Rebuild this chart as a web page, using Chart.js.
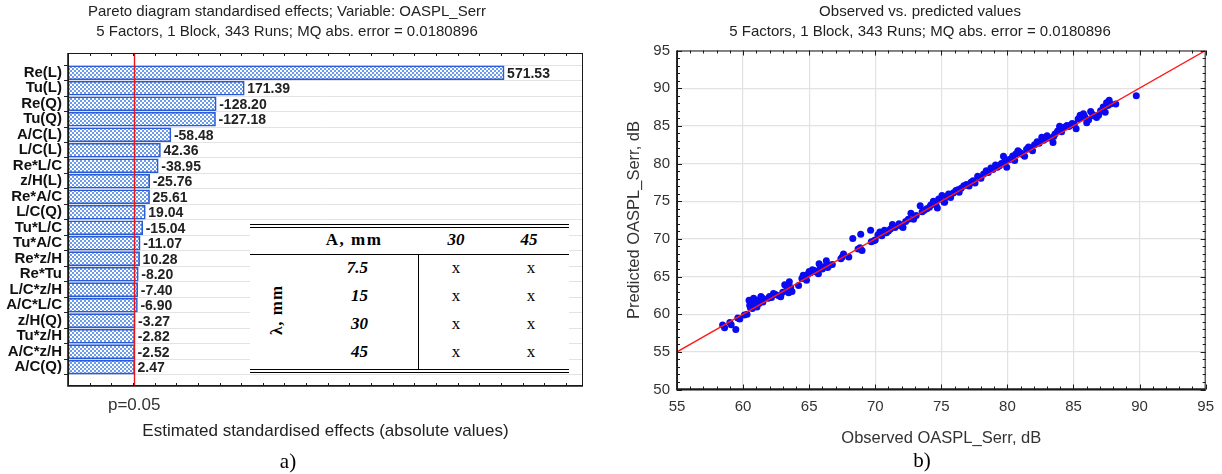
<!DOCTYPE html>
<html>
<head>
<meta charset="utf-8">
<script src="https://cdn.jsdelivr.net/npm/chart.js@4.4.1/dist/chart.umd.min.js"></script>
<style>
  html, body { margin: 0; padding: 0; background: #fff; }
  #page { position: relative; width: 1222px; height: 474px; overflow: hidden; font-family: "Liberation Sans", Arial, sans-serif; }
  #paretoBox { position: absolute; left: 0; top: 0; width: 610px; height: 474px; }
  #scatterBox { position: absolute; left: 610px; top: 0; width: 612px; height: 474px; }
  .cap { position: absolute; font-family: "Liberation Serif", "Times New Roman", serif; font-size: 21px; color: #000; transform: translate(-50%, -50%); }
  #levels { position: absolute; left: 250px; top: 224px; width: 319px; height: 150px; background: #fff; font-family: "Liberation Serif", "Times New Roman", serif; color: #000; }
  #levels .rule { position: absolute; left: 0; width: 319px; height: 1.4px; background: #000; }
  #levels .vrule { position: absolute; left: 167.5px; top: 30px; width: 1.6px; height: 115px; background: #000; }
  #levels .t { position: absolute; transform: translate(-50%, -50%); white-space: nowrap; font-size: 17px; }
  #levels .r { position: absolute; transform: translate(-100%, -50%); white-space: nowrap; font-size: 17px; font-weight: bold; font-style: italic; }
  #levels .b { font-weight: bold; }
  #levels .bi { font-weight: bold; font-style: italic; }
</style>
</head>
<body>
<div id="page">
  <div id="paretoBox"><canvas id="pareto" width="610" height="474"></canvas></div>
  <div id="scatterBox"><canvas id="scatter" width="612" height="474"></canvas></div>

  <div id="levels">
    <div class="rule" style="top:0px"></div>
    <div class="rule" style="top:3px"></div>
    <div class="t b" style="left:104px; top:16px; letter-spacing:1.5px">A, mm</div>
    <div class="t bi" style="left:206px; top:16px">30</div>
    <div class="t bi" style="left:279px; top:16px">45</div>
    <div class="rule" style="top:29.5px; height:1.6px"></div>
    <div class="vrule"></div>
    <div class="t b" style="left:27px; top:86px; transform: translate(-50%, -50%) rotate(-90deg); letter-spacing:1px">λ, mm</div>
    <div class="r" style="left:118px; top:44px">7.5</div>
    <div class="r" style="left:118px; top:72px">15</div>
    <div class="r" style="left:118px; top:100px">30</div>
    <div class="r" style="left:118px; top:128px">45</div>
    <div class="t" style="left:206px; top:44px">x</div>
    <div class="t" style="left:281px; top:44px">x</div>
    <div class="t" style="left:206px; top:72px">x</div>
    <div class="t" style="left:281px; top:72px">x</div>
    <div class="t" style="left:206px; top:100px">x</div>
    <div class="t" style="left:281px; top:100px">x</div>
    <div class="t" style="left:206px; top:128px">x</div>
    <div class="t" style="left:281px; top:128px">x</div>
    <div class="rule" style="top:145px"></div>
    <div class="rule" style="top:148px"></div>
  </div>

  <div class="cap" style="left:288px; top:461px">a)</div>
  <div class="cap" style="left:922px; top:460px">b)</div>
</div>

<script>
// ---- Pareto chart of standardised effects ----
const FACTORS = ['Re(L)', 'Tu(L)', 'Re(Q)', 'Tu(Q)', 'A/C(L)', 'L/C(L)', 'Re*L/C', 'z/H(L)', 'Re*A/C', 'L/C(Q)',
                 'Tu*L/C', 'Tu*A/C', 'Re*z/H', 'Re*Tu', 'L/C*z/H', 'A/C*L/C', 'z/H(Q)', 'Tu*z/H', 'A/C*z/H', 'A/C(Q)'];
const EFFECTS = [571.53, 171.39, -128.20, -127.18, -58.48, 42.36, -38.95, -25.76, 25.61, 19.04,
                 -15.04, -11.07, 10.28, -8.20, -7.40, -6.90, -3.27, -2.82, -2.52, 2.47];
const P_CRITICAL = 1.97;          // t value for p = 0.05
const P_LABEL = 'p=0.05';
const PARETO_TITLE = ['Pareto diagram standardised effects; Variable: OASPL_Serr',
                      '5 Factors, 1 Block, 343 Runs; MQ abs. error = 0.0180896'];
const PARETO_XTITLE = 'Estimated standardised effects (absolute values)';

// ---- Observed vs. predicted ----
const OBSERVED = [
  58.45, 58.6, 59.0, 59.1, 59.45, 59.6, 59.75, 60.1, 60.3, 60.45, 60.5, 60.55, 60.6, 60.7, 60.75, 60.8, 60.85, 60.9, 61.0, 61.05,
  61.1, 61.2, 61.35, 61.45, 61.5, 61.9, 62.0, 62.15, 62.3, 62.45, 62.7, 62.85, 63.0, 63.15, 63.3, 63.45, 63.5, 63.6, 63.7, 64.2,
  64.45, 64.55, 64.65, 64.8, 64.9, 65.0, 65.1, 65.25, 65.4, 65.55, 65.7, 65.75, 65.85, 66.0, 66.1, 66.3, 66.4, 66.55, 66.75, 67.4,
  67.5, 67.6, 68.0, 68.3, 68.7, 68.85, 68.9, 69.0, 69.65, 69.7, 69.9, 70.0, 70.2, 70.35, 70.5, 70.7, 70.85, 71.0, 71.15, 71.3,
  71.5, 71.8, 71.95, 72.1, 72.3, 72.5, 72.7, 72.9, 73.1, 73.4, 73.55, 73.7, 73.9, 74.1, 74.2, 74.4, 74.45, 74.6, 74.7, 74.8,
  75.05, 75.2, 75.25, 75.4, 75.55, 75.7, 75.9, 76.1, 76.25, 76.35, 76.5, 76.7, 76.9, 77.1, 77.25, 77.4, 77.55, 77.75, 77.9, 78.0,
  78.2, 78.4, 78.55, 78.75, 78.9, 79.1, 79.25, 79.4, 79.55, 79.7, 79.8, 79.95, 80.1, 80.25, 80.4, 80.55, 80.65, 80.8, 80.9, 81.0,
  81.15, 81.3, 81.45, 81.6, 81.75, 81.9, 82.05, 82.25, 82.4, 82.6, 82.75, 82.9, 83.0, 83.2, 83.45, 83.5, 83.6, 83.8, 83.95, 84.05,
  84.1, 84.3, 84.5, 84.65, 84.8, 84.9, 85.05, 85.2, 85.35, 85.5, 85.6, 85.75, 85.85, 86.0, 86.15, 86.3, 86.45, 86.6, 86.75, 86.9,
  87.05, 87.25, 87.4, 87.5, 87.6, 87.7, 87.8, 88.2, 89.75
];
const PREDICTED = [
  58.55, 58.2, 58.9, 58.6, 57.95, 59.5, 59.35, 59.9, 60.0, 61.85, 61.2, 60.9, 61.55, 60.75, 61.95, 62.1, 61.3, 61.7, 61.55, 60.95,
  61.85, 61.4, 62.35, 62.15, 61.6, 62.1, 62.35, 62.2, 62.75, 62.6, 62.45, 62.3, 62.9, 63.9, 63.2, 62.85, 64.3, 63.55, 63.0, 63.8,
  64.75, 65.15, 64.95, 64.5, 65.3, 65.65, 65.5, 65.9, 65.8, 65.6, 65.35, 66.7, 66.1, 66.0, 66.3, 67.1, 66.2, 66.5, 66.6, 67.35,
  67.6, 68.0, 67.6, 70.05, 68.65, 68.8, 70.6, 68.45, 71.15, 69.6, 69.75, 69.85, 70.5, 70.9, 70.4, 71.15, 70.8, 71.05, 71.3, 71.9,
  71.5, 72.0, 71.7, 71.5, 72.3, 72.6, 73.4, 72.6, 73.1, 74.4, 73.6, 73.8, 74.0, 74.2, 74.5, 75.0, 74.7, 74.5, 74.1, 75.3,
  75.75, 74.9, 74.85, 75.6, 75.95, 75.5, 76.1, 76.4, 76.5, 76.2, 76.7, 77.05, 77.2, 77.0, 77.5, 77.7, 77.4, 78.3, 78.1, 78.05,
  78.6, 79.05, 78.8, 79.4, 79.2, 79.8, 79.5, 79.7, 80.0, 80.95, 80.3, 79.5, 80.5, 80.6, 81.0, 80.4, 81.3, 81.7, 81.5, 81.4,
  81.2, 80.95, 81.9, 82.2, 81.95, 81.7, 82.5, 82.9, 82.7, 83.5, 83.1, 83.3, 83.7, 83.4, 82.8, 83.6, 83.9, 84.3, 84.95, 84.6,
  84.2, 84.8, 85.05, 84.9, 85.1, 85.3, 85.2, 84.6, 85.9, 86.4, 86.1, 86.6, 86.2, 85.4, 85.8, 86.9, 86.5, 86.3, 86.1, 86.4,
  87.0, 87.5, 86.8, 88.05, 87.7, 88.4, 87.9, 87.9, 89.0
];
const FIT_LINE_X = [55, 95];
const FIT_LINE_Y = [55, 95];
const SCATTER_TITLE = ['Observed vs. predicted values',
                       '5 Factors, 1 Block, 343 Runs; MQ abs. error = 0.0180896'];
const SCATTER_XTITLE = 'Observed OASPL_Serr, dB';
const SCATTER_YTITLE = 'Predicted OASPL_Serr, dB';

const SANS = '"Liberation Sans", Arial, sans-serif';
Chart.defaults.font.family = SANS;

// Two centred heading lines drawn above the plot
const headings = {
  id: 'headings',
  afterDraw(chart, args, opts) {
    const ctx = chart.ctx;
    ctx.save();
    ctx.fillStyle = '#222';
    ctx.font = opts.size + 'px ' + SANS;
    ctx.textAlign = 'center';
    ctx.textBaseline = 'middle';
    opts.lines.forEach((t, i) => ctx.fillText(t, opts.x, opts.y[i]));
    ctx.restore();
  }
};

// Plot frame with small inward tick marks
const frame = {
  id: 'frame',
  afterDatasetsDraw(chart, args, opts) {
    const {ctx, chartArea: a} = chart;
    const xs = chart.scales.x, ys = chart.scales.y;
    ctx.save();
    ctx.strokeStyle = '#1a1a1a';
    ctx.lineWidth = opts.thin;
    ctx.strokeRect(a.left + 0.5, a.top + 0.5, a.right - a.left - 1, a.bottom - a.top - 1);
    ctx.lineWidth = opts.thick;
    ctx.beginPath();
    ctx.moveTo(a.left, a.top); ctx.lineTo(a.left, a.bottom); ctx.lineTo(a.right, a.bottom);
    ctx.stroke();
    ctx.lineWidth = 1;
    ctx.beginPath();
    if (opts.xStep) {
      let k = 0;
      for (let v = xs.min; v <= xs.max + 1e-6; v = xs.min + (++k) * opts.xStep) {
        const px = Math.round(xs.getPixelForValue(v)) + 0.5;
        const len = (opts.xMajor && Math.abs(v / opts.xMajor - Math.round(v / opts.xMajor)) < 1e-6) ? 5 : 3;
        ctx.moveTo(px, a.top); ctx.lineTo(px, a.top + len);
        ctx.moveTo(px, a.bottom); ctx.lineTo(px, a.bottom - len);
      }
    }
    if (opts.yStep) {
      let k = 0;
      for (let v = ys.min; v <= ys.max + 1e-6; v = ys.min + (++k) * opts.yStep) {
        const py = Math.round(ys.getPixelForValue(v)) + 0.5;
        const len = (opts.yMajor && Math.abs(v / opts.yMajor - Math.round(v / opts.yMajor)) < 1e-6) ? 5 : 3;
        ctx.moveTo(a.left, py); ctx.lineTo(a.left + len, py);
        ctx.moveTo(a.right, py); ctx.lineTo(a.right - len, py);
      }
    }
    ctx.stroke();
    ctx.restore();
  }
};

// Significance limit and effect values next to the bars
const paretoExtras = {
  id: 'paretoExtras',
  afterDatasetsDraw(chart) {
    const {ctx, chartArea: a} = chart;
    const x = Math.round(chart.scales.x.getPixelForValue(P_CRITICAL)) + 0.5;
    ctx.save();
    ctx.strokeStyle = '#e8161b';
    ctx.lineWidth = 1.4;
    ctx.beginPath(); ctx.moveTo(x, a.top); ctx.lineTo(x, a.bottom); ctx.stroke();
    ctx.fillStyle = '#222';
    ctx.font = 'bold 14px ' + SANS;
    ctx.textAlign = 'left';
    ctx.textBaseline = 'middle';
    chart.getDatasetMeta(0).data.forEach((bar, i) => {
      ctx.fillText(EFFECTS[i].toFixed(2), bar.x + 3, bar.y + 1);
    });
    ctx.restore();
  }
};

function crossHatch(ctx) {
  const c = document.createElement('canvas');
  c.width = 4; c.height = 4;
  const g = c.getContext('2d');
  g.fillStyle = '#ffffff'; g.fillRect(0, 0, 4, 4);
  g.fillStyle = '#6c9be9';
  g.fillRect(0, 0, 2, 2); g.fillRect(2, 2, 2, 2);
  return ctx.createPattern(c, 'repeat');
}

const EFFECT_MIN = -100, EFFECT_MAX = 693;
const pctx = document.getElementById('pareto').getContext('2d');

new Chart(pctx, {
  type: 'bar',
  data: {
    datasets: [{
      data: EFFECTS.map((v, i) => ({x: Math.abs(v), y: i})),
      base: EFFECT_MIN,
      backgroundColor: crossHatch(pctx),
      borderColor: '#2a5bd6',
      borderWidth: 1.6,
      borderSkipped: false,
      barThickness: 14
    }]
  },
  options: {
    indexAxis: 'y',
    animation: false,
    responsive: false,
    events: [],
    layout: {padding: {left: 0, right: 27, top: 53, bottom: 0}},
    plugins: {
      legend: {display: false},
      tooltip: {enabled: false},
      headings: {lines: PARETO_TITLE, x: 287, y: [12, 32], size: 15},
      frame: {thin: 1, thick: 1.6, xStep: 100 / 3}
    },
    scales: {
      x: {
        type: 'linear', min: EFFECT_MIN, max: EFFECT_MAX,
        grid: {display: false, drawTicks: false},
        border: {display: false},
        afterBuildTicks: s => { s.ticks = [{value: P_CRITICAL}]; },
        ticks: {callback: () => P_LABEL, font: {size: 17}, color: '#333', padding: 9, maxRotation: 0, autoSkip: false},
        title: {display: true, text: PARETO_XTITLE, font: {size: 17}, color: '#222', padding: {top: 0, bottom: 32}},
        afterFit: s => { s.height = 88; }
      },
      y: {
        type: 'linear', reverse: true, min: -0.74, max: 19.68,
        afterBuildTicks: s => { s.ticks = FACTORS.map((_, i) => ({value: i})); },
        ticks: {callback: v => FACTORS[v], font: {size: 15, weight: 'bold'}, color: '#111', padding: 2, autoSkip: false},
        grid: {color: '#e3e3e3', tickColor: '#222', tickLength: 4, lineWidth: 1},
        border: {display: false},
        afterFit: s => { s.width = 68; }
      }
    }
  },
  plugins: [headings, paretoExtras, frame]
});

const sctx = document.getElementById('scatter').getContext('2d');
new Chart(sctx, {
  type: 'scatter',
  data: {
    datasets: [{
      type: 'line',
      data: FIT_LINE_X.map((x, i) => ({x, y: FIT_LINE_Y[i]})),
      borderColor: '#ff1a1a',
      borderWidth: 1.4,
      pointRadius: 0,
      fill: false
    }, {
      data: OBSERVED.map((x, i) => ({x, y: PREDICTED[i]})),
      backgroundColor: '#0a0af2',
      borderWidth: 0,
      pointRadius: 3.5
    }]
  },
  options: {
    animation: false,
    responsive: false,
    events: [],
    layout: {padding: {left: 0, right: 14, top: 50.5, bottom: 0}},
    plugins: {
      legend: {display: false},
      tooltip: {enabled: false},
      headings: {lines: SCATTER_TITLE, x: 310, y: [12, 32], size: 15},
      frame: {thin: 1, thick: 1.8, xStep: 1, xMajor: 5, yStep: 1, yMajor: 5}
    },
    scales: {
      x: {
        type: 'linear', min: 55, max: 95,
        ticks: {stepSize: 5, font: {size: 15}, color: '#333', padding: 8},
        grid: {color: '#e2e2e2', lineWidth: 1.2, drawTicks: false},
        border: {display: false},
        title: {display: true, text: SCATTER_XTITLE, font: {size: 16.5}, color: '#333', padding: {top: 0, bottom: 26}},
        afterFit: s => { s.height = 84.5; }
      },
      y: {
        type: 'linear', min: 50, max: 95,
        ticks: {stepSize: 5, font: {size: 15}, color: '#333', padding: 7},
        grid: {color: '#e2e2e2', lineWidth: 1.2, drawTicks: false},
        border: {display: false},
        title: {display: true, text: SCATTER_YTITLE, font: {size: 16.5}, color: '#333', padding: {top: 15, bottom: 0}},
        afterFit: s => { s.width = 67; }
      }
    }
  },
  plugins: [headings, frame]
});
</script>
</body>
</html>
